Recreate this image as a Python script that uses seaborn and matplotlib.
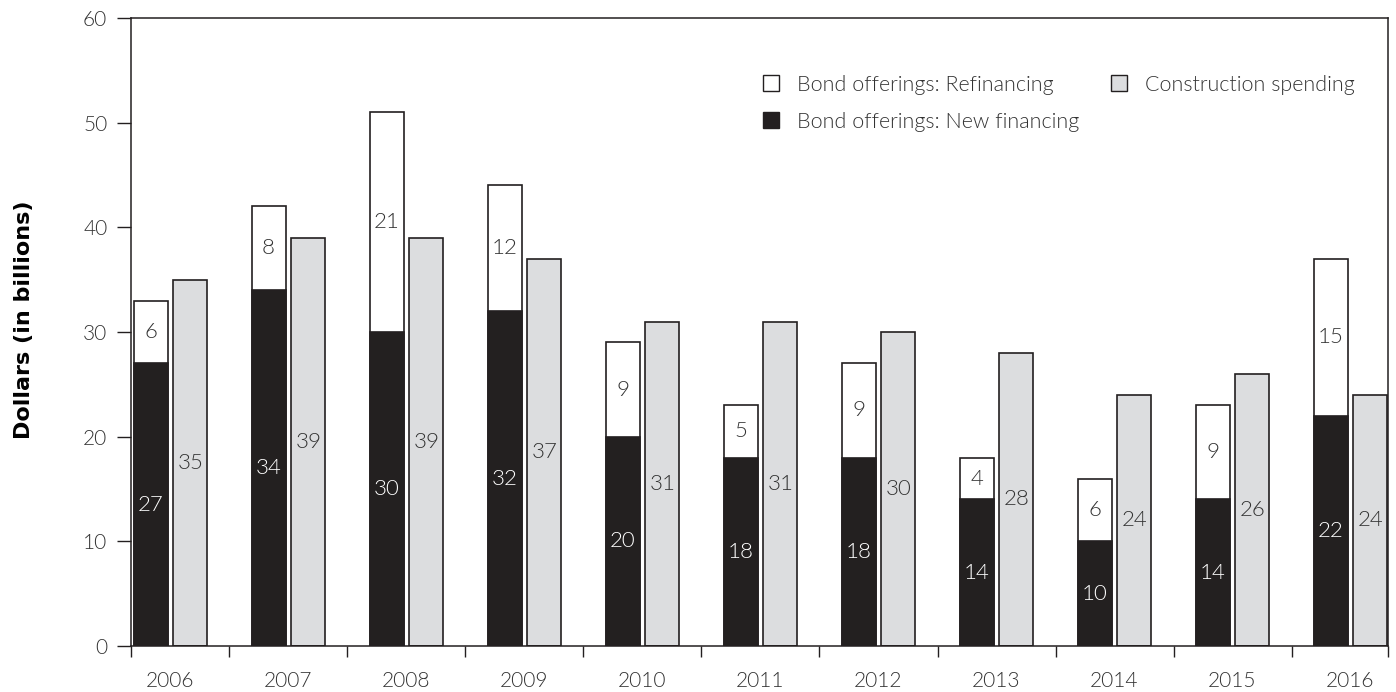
import pandas as pd
import seaborn as sns
import matplotlib.pyplot as plt
from matplotlib.patches import Patch

years = ['2006', '2007', '2008', '2009', '2010', '2011', '2012', '2013', '2014', '2015', '2016']
new_financing = [27, 34, 30, 32, 20, 18, 18, 14, 10, 14, 22]
refinancing = [6, 8, 21, 12, 9, 5, 9, 4, 6, 9, 15]
construction = [35, 39, 39, 37, 31, 31, 30, 28, 24, 26, 24]

DARK = '#231f20'
GREY = '#dcdddf'
TXT = '#333333'

sns.set_style("white")
plt.rcParams['font.family'] = ['Lato', 'DejaVu Sans']
LIGHT = 300

totals = [n + r for n, r in zip(new_financing, refinancing)]
kinds = ['bond'] * len(years) + ['constr'] * len(years)
df_top = pd.DataFrame({'year': years * 2, 'value': totals + construction, 'kind': kinds})
# constr rows at 0 keep the dodge slots the same as the first layer
df_new = pd.DataFrame({'year': years * 2, 'value': new_financing + [0] * len(years), 'kind': kinds})

fig = plt.figure(figsize=(13.96, 6.92), dpi=100)
ax = fig.add_axes([0.0938, 0.0665, 0.9005, 0.9075])

kw = dict(x='year', y='value', hue='kind', hue_order=['bond', 'constr'],
          width=0.676, gap=0.148, edgecolor=DARK, linewidth=1.2,
          legend=False, errorbar=None, ax=ax)
sns.barplot(data=df_top, palette={'bond': 'white', 'constr': GREY}, **kw)
sns.barplot(data=df_new, palette={'bond': DARK, 'constr': GREY}, **kw)

constr_bars, new_bars = ax.containers[1], ax.containers[2]
lab = dict(ha='center', va='center', fontsize=16, fontweight=LIGHT)
for i in range(len(years)):
    b = new_bars[i]
    cx = b.get_x() + b.get_width() / 2
    ax.text(cx, new_financing[i] / 2, str(new_financing[i]), color='white', **lab)
    ax.text(cx, new_financing[i] + refinancing[i] / 2, str(refinancing[i]), color=TXT, **lab)
    c = constr_bars[i]
    ax.text(c.get_x() + c.get_width() / 2, construction[i] / 2, str(construction[i]), color=TXT, **lab)

ax.set_xlim(-0.335, 10.318)
ax.set_ylim(0, 60)
ax.set_yticks(range(0, 61, 10))
ax.set_xticks(range(len(years)))
ax.set_xticklabels(years)
ax.set_xticks([-0.335] + [i + 0.5 for i in range(10)] + [10.318], minor=True)
ax.tick_params(axis='x', which='major', length=0, pad=18, labelsize=15, labelcolor=TXT)
ax.tick_params(axis='x', which='minor', length=8, width=1, color=DARK, direction='out', bottom=True)
ax.tick_params(axis='y', length=10, width=1, color=DARK, direction='out', left=True,
               pad=7, labelsize=15, labelcolor=TXT)
for t in ax.get_xticklabels() + ax.get_yticklabels():
    t.set_fontweight(LIGHT)
for s in ax.spines.values():
    s.set_color(DARK)
    s.set_linewidth(1.1)

ax.set_xlabel('')
ax.set_ylabel('Dollars (in billions)', fontsize=16, fontweight='bold', color='black',
              family='DejaVu Sans')
ax.yaxis.set_label_coords(-0.077, 0.519)

handles = [
    Patch(facecolor='white', edgecolor=DARK, linewidth=1, label='Bond offerings: Refinancing'),
    Patch(facecolor=DARK, edgecolor=DARK, linewidth=1, label='Bond offerings: New financing'),
    Patch(facecolor=GREY, edgecolor=DARK, linewidth=1, label='Construction spending'),
]
leg = ax.legend(handles=handles, ncol=2, frameon=False, loc='upper left',
                bbox_to_anchor=(0.503, 0.91), handlelength=0.75, handleheight=0.75,
                handletextpad=0.8, labelspacing=0.8, columnspacing=1.5,
                borderpad=0, borderaxespad=0, prop={'size': 15.5, 'weight': LIGHT})
for t in leg.get_texts():
    t.set_color(TXT)

fig.savefig('out.png', dpi=100)
